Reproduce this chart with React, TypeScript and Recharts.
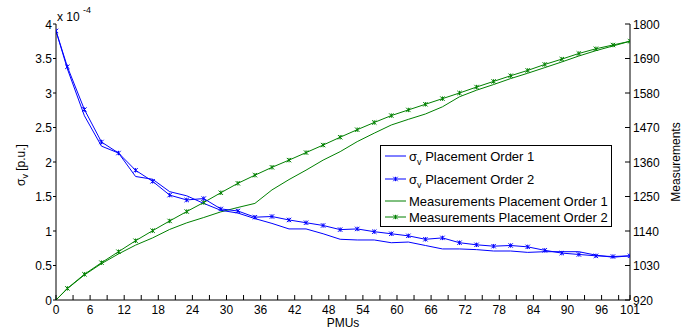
import React from 'react';
import { ComposedChart, Line, XAxis, YAxis, Legend, Customized } from 'recharts';

const pmus = [0, 2, 5, 8, 11, 14, 17, 20, 23, 26, 29, 32, 35, 38, 41, 44, 47, 50, 53, 56, 59, 62, 65, 68, 71, 74, 77, 80, 83, 86, 89, 92, 95, 98, 101];
const sigmaOrder1 = [3.9, 3.35, 2.67, 2.23, 2.13, 1.79, 1.75, 1.57, 1.51, 1.4, 1.3, 1.26, 1.18, 1.11, 1.03, 1.03, 0.96, 0.88, 0.87, 0.87, 0.83, 0.84, 0.79, 0.74, 0.74, 0.73, 0.71, 0.71, 0.69, 0.7, 0.7, 0.7, 0.65, 0.62, 0.64];
const sigmaOrder2 = [3.9, 3.38, 2.76, 2.29, 2.13, 1.88, 1.72, 1.52, 1.45, 1.47, 1.32, 1.29, 1.2, 1.21, 1.16, 1.12, 1.08, 1.02, 1.03, 0.99, 0.96, 0.93, 0.88, 0.9, 0.83, 0.8, 0.78, 0.79, 0.77, 0.72, 0.68, 0.66, 0.64, 0.63, 0.64];
const measOrder1 = [920, 956, 1000, 1036, 1067, 1095, 1118, 1145, 1166, 1183, 1201, 1215, 1228, 1271, 1304, 1334, 1366, 1393, 1425, 1452, 1478, 1496, 1513, 1536, 1568, 1589, 1607, 1626, 1643, 1661, 1679, 1698, 1715, 1730, 1745];
const measOrder2 = [920, 957, 1002, 1039, 1074, 1109, 1141, 1172, 1202, 1231, 1262, 1292, 1318, 1343, 1366, 1390, 1414, 1439, 1463, 1486, 1508, 1526, 1544, 1562, 1580, 1599, 1617, 1635, 1652, 1671, 1688, 1706, 1721, 1733, 1745];

const xTicks = [0, 3, 6, 9, 12, 15, 18, 21, 24, 27, 30, 33, 36, 39, 42, 45, 48, 51, 54, 57, 60, 63, 66, 69, 72, 75, 78, 81, 84, 87, 90, 93, 96, 99, 101];
const leftTicks = [0, 0.5, 1, 1.5, 2, 2.5, 3, 3.5, 4];
const rightTicks = [920, 1030, 1140, 1250, 1360, 1470, 1580, 1690, 1800];

const legendLabels = ['Placement Order 1', 'Placement Order 2', 'Measurements Placement Order 1', 'Measurements Placement Order 2'];

const data = pmus.map((p, i) => ({
  pmu: p,
  s1: sigmaOrder1[i],
  s2: sigmaOrder2[i],
  m1: measOrder1[i],
  m2: measOrder2[i],
}));

const FONT = '"Liberation Sans", Arial, Helvetica, sans-serif';
const BLUE = '#0000ff';
const GREEN = '#008000';

const star = (color: string) => (props: any) => {
  const { cx, cy, index } = props;
  if (cx == null || cy == null) return <g key={index} />;
  const r = 2.2;
  return (
    <g key={index}>
      <path
        d={`M${cx - r},${cy - r}L${cx + r},${cy + r}M${cx - r},${cy + r}L${cx + r},${cy - r}M${cx},${cy - r}L${cx},${cy + r}`}
        stroke={color}
        strokeWidth={1}
        fill="none"
      />
    </g>
  );
};

const BottomTick = (props: any) => {
  const { x, y, payload } = props;
  const v = payload.value;
  const show = v % 6 === 0 || v === 101;
  return (
    <g>
      <line x1={x} x2={x} y1={y} y2={y - 5} stroke="#000" strokeWidth={1} />
      {show && (
        <text x={x} y={y + 14} textAnchor="middle" fontSize={12} fontFamily={FONT} fill="#000">
          {v}
        </text>
      )}
    </g>
  );
};

const TopTick = (props: any) => {
  const { x, y } = props;
  return <line x1={x} x2={x} y1={y} y2={y + 5} stroke="#000" strokeWidth={1} />;
};

const LeftTick = (props: any) => {
  const { x, y, payload } = props;
  return (
    <g>
      <line x1={x - 3} x2={x} y1={y} y2={y} stroke="#000" strokeWidth={1} />
      <text x={x - 4} y={y + 4.5} textAnchor="end" fontSize={12} fontFamily={FONT} fill="#000">
        {String(payload.value)}
      </text>
    </g>
  );
};

const RightTick = (props: any) => {
  const { x, y, payload } = props;
  return (
    <g>
      <line x1={x} x2={x - 5} y1={y} y2={y} stroke="#000" strokeWidth={1} />
      <text x={x + 3} y={y + 4.5} textAnchor="start" fontSize={12} fontFamily={FONT} fill="#000">
        {payload.value}
      </text>
    </g>
  );
};

const Texts = () => (
  <g fontFamily={FONT} fill="#000">
    <text x={57} y={21} fontSize={12}>
      x 10
    </text>
    <text x={83} y={13} fontSize={9}>
      -4
    </text>
    <text x={343} y={327} fontSize={12} textAnchor="middle">
      PMUs
    </text>
    <text transform="translate(25,165) rotate(-90)" fontSize={12} textAnchor="middle">
      <tspan>σ</tspan>
      <tspan dy={3} fontSize={9}>v</tspan>
      <tspan dy={-3}> [p.u.]</tspan>
    </text>
    <text transform="translate(680,162) rotate(-90)" fontSize={12} textAnchor="middle">
      Measurements
    </text>
  </g>
);

const LegendBox = () => {
  const rows = [11, 34, 56, 72];
  const colors = [BLUE, BLUE, GREEN, GREEN];
  const starFn = [null, star(BLUE), null, star(GREEN)];
  return (
    <svg width={232} height={82} style={{ display: 'block' }}>
      <rect x={0.5} y={0.5} width={231} height={81} fill="#fff" stroke="#000" strokeWidth={1} />
      {rows.map((cy, i) => (
        <g key={i}>
          <line x1={5} x2={26} y1={cy} y2={cy} stroke={colors[i]} strokeWidth={1} />
          {starFn[i] && (starFn[i] as any)({ cx: 15.5, cy, index: i })}
          {i < 2 ? (
            <text x={29} y={cy + 4.5} fontSize={13} fontFamily={FONT} fill="#000">
              <tspan>σ</tspan>
              <tspan dy={4} fontSize={9}>v</tspan>
              <tspan dy={-4}> {legendLabels[i]}</tspan>
            </text>
          ) : (
            <text x={29} y={cy + 4.5} fontSize={13} fontFamily={FONT} fill="#000">
              {legendLabels[i]}
            </text>
          )}
        </g>
      ))}
    </svg>
  );
};

export default function App() {
  return (
    <div style={{ position: 'absolute', left: 0, top: 0, width: 695, height: 331, background: '#fff' }}>
      <ComposedChart width={695} height={331} data={data} margin={{ top: 24, right: 0, bottom: 0, left: 0 }}>
        <XAxis
          dataKey="pmu"
          type="number"
          domain={[0, 101]}
          ticks={xTicks}
          interval={0}
          height={31}
          tickSize={0}
          tickMargin={0}
          tickLine={false}
          tick={<BottomTick />}
          axisLine={{ stroke: '#000' }}
          allowDataOverflow
        />
        <XAxis
          xAxisId="top"
          orientation="top"
          type="number"
          domain={[0, 101]}
          ticks={xTicks}
          interval={0}
          height={0}
          tickSize={0}
          tickMargin={0}
          tickLine={false}
          tick={<TopTick />}
          axisLine={{ stroke: '#000' }}
          allowDataOverflow
        />
        <YAxis
          yAxisId="left"
          type="number"
          domain={[0, 4]}
          ticks={leftTicks}
          interval={0}
          width={56}
          tickSize={0}
          tickMargin={0}
          tickLine={false}
          tick={<LeftTick />}
          axisLine={{ stroke: '#000' }}
          allowDataOverflow
        />
        <YAxis
          yAxisId="right"
          orientation="right"
          type="number"
          domain={[920, 1800]}
          ticks={rightTicks}
          interval={0}
          width={65}
          tickSize={0}
          tickMargin={0}
          tickLine={false}
          tick={<RightTick />}
          axisLine={{ stroke: '#000' }}
          allowDataOverflow
        />
        <Line yAxisId="right" dataKey="m1" stroke={GREEN} strokeWidth={1} dot={false} isAnimationActive={false} />
        <Line yAxisId="right" dataKey="m2" stroke={GREEN} strokeWidth={1} dot={star(GREEN)} isAnimationActive={false} />
        <Line yAxisId="left" dataKey="s1" stroke={BLUE} strokeWidth={1} dot={false} isAnimationActive={false} />
        <Line yAxisId="left" dataKey="s2" stroke={BLUE} strokeWidth={1} dot={star(BLUE)} isAnimationActive={false} />
        <Legend
          layout="horizontal"
          verticalAlign="middle"
          align="center"
          wrapperStyle={{ left: 380, top: 145, width: 232, height: 82 }}
          content={() => <LegendBox />}
        />
        <Customized component={Texts} />
      </ComposedChart>
    </div>
  );
}
